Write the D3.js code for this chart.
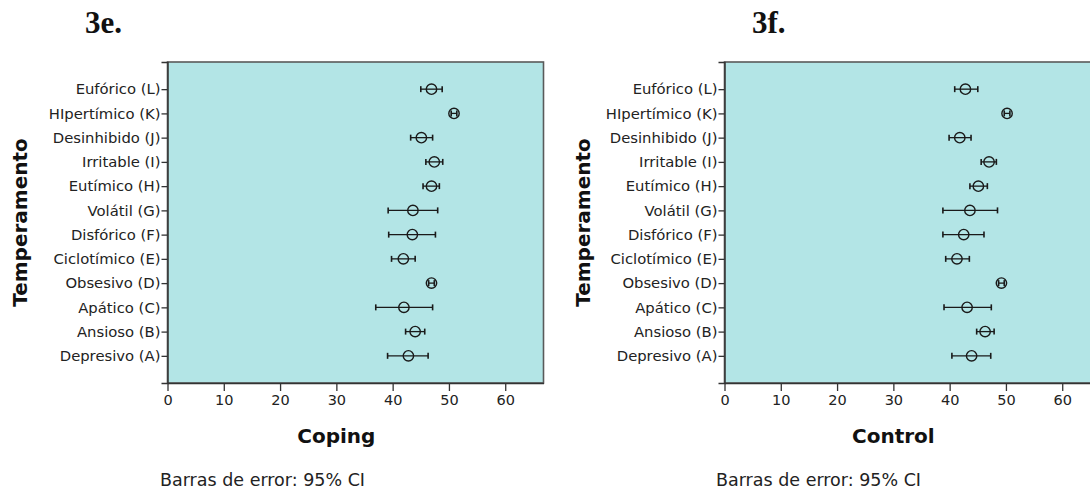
<!DOCTYPE html>
<html>
<head>
<meta charset="utf-8">
<script src="https://cdn.jsdelivr.net/npm/d3@7"></script>
<style>
  html, body { margin: 0; padding: 0; background: #fff; }
  svg { display: block; }
</style>
</head>
<body>
<svg id="chart" width="1090" height="493"></svg>
<script>
// Temperament categories, bottom (A) to top (L)
const categories = [
  "Depresivo (A)", "Ansioso (B)", "Apático (C)", "Obsesivo (D)",
  "Ciclotímico (E)", "Disfórico (F)", "Volátil (G)", "Eutímico (H)",
  "Irritable (I)", "Desinhibido (J)", "HIpertímico (K)", "Eufórico (L)"
];

// Coping: mean and 95% CI
const copingMean  = [42.8, 44.0, 42.0, 46.9, 41.9, 43.5, 43.6, 46.9, 47.4, 45.1, 50.9, 46.9];
const copingLow   = [39.1, 42.3, 37.0, 46.4, 39.8, 39.3, 39.2, 45.4, 45.9, 43.2, 50.4, 45.0];
const copingHigh  = [46.3, 45.7, 47.1, 47.4, 44.0, 47.6, 48.0, 48.3, 48.9, 47.1, 51.4, 48.8];

// Control: mean and 95% CI
const controlMean = [43.9, 46.3, 43.1, 49.2, 41.3, 42.5, 43.6, 45.1, 47.0, 41.8, 50.2, 42.8];
const controlLow  = [40.4, 44.8, 39.0, 48.7, 39.3, 38.8, 38.8, 43.6, 45.6, 39.9, 49.7, 40.9];
const controlHigh = [47.3, 47.9, 47.4, 49.7, 43.5, 46.1, 48.5, 46.7, 48.3, 43.8, 50.7, 45.0];

const xTicks = [0, 10, 20, 30, 40, 50, 60];

const svg = d3.select("#chart");
const labelFont = "'DejaVu Sans', 'Lucida Grande', sans-serif";

function panel(opts) {
  const g = svg.append("g");
  const left = opts.left, top = 62, width = 376, height = 321;

  const x = d3.scaleLinear().domain([0, 66.8]).range([left, left + width]);
  const y = d3.scalePoint().domain(categories).range([top + height, top]).padding(1.12);

  // panel heading
  g.append("text")
    .attr("x", opts.headX).attr("y", 33)
    .attr("font-family", "'Liberation Serif', 'Times New Roman', serif")
    .attr("font-weight", "bold").attr("font-size", 31)
    .attr("fill", "#111")
    .text(opts.heading);

  // plot background
  g.append("rect")
    .attr("x", left).attr("y", top).attr("width", width).attr("height", height)
    .attr("fill", "#b3e5e6").attr("stroke", "#5a5a5a").attr("stroke-width", 1.6);

  // y axis
  const yAxis = g.append("g").attr("transform", `translate(${left},0)`)
    .call(d3.axisLeft(y).tickSize(6).tickPadding(1));
  yAxis.select(".domain").attr("stroke", "#333").attr("stroke-width", 1.4);
  yAxis.selectAll(".tick line").attr("stroke", "#333").attr("stroke-width", 1.3);
  yAxis.selectAll(".tick text")
    .attr("font-family", labelFont).attr("font-size", 14.8).attr("fill", "#222");

  // x axis
  const xAxis = g.append("g").attr("transform", `translate(0,${top + height})`)
    .call(d3.axisBottom(x).tickValues(xTicks).tickSize(8).tickPadding(4).tickSizeOuter(0));
  xAxis.select(".domain").attr("stroke", "#333").attr("stroke-width", 1.4);
  xAxis.selectAll(".tick line").attr("stroke", "#333").attr("stroke-width", 1.3);
  xAxis.selectAll(".tick text")
    .attr("font-family", labelFont).attr("font-size", 14.5).attr("fill", "#222");

  // axis titles
  g.append("text")
    .attr("x", (x(0) + x(60)) / 2).attr("y", 443)
    .attr("text-anchor", "middle")
    .attr("font-family", labelFont).attr("font-weight", "bold").attr("font-size", 20)
    .attr("fill", "#111")
    .text(opts.xTitle);

  g.append("text")
    .attr("transform", `translate(${opts.yTitleX},${top + height / 2}) rotate(-90)`)
    .attr("text-anchor", "middle")
    .attr("font-family", labelFont).attr("font-weight", "bold").attr("font-size", 20)
    .attr("fill", "#111")
    .text("Temperamento");

  g.append("text")
    .attr("x", opts.noteX).attr("y", 486)
    .attr("font-family", labelFont).attr("font-size", 17.5).attr("fill", "#222")
    .text("Barras de error: 95% CI");

  // error bars and means
  const rows = categories.map((c, i) => ({ c, m: opts.mean[i], lo: opts.low[i], hi: opts.high[i] }));
  const marks = g.append("g").attr("stroke", "#1a1a1a").attr("fill", "none");
  const cap = 3;
  marks.selectAll("line.bar").data(rows).join("line").attr("class", "bar")
    .attr("x1", d => x(d.lo)).attr("x2", d => x(d.hi))
    .attr("y1", d => y(d.c)).attr("y2", d => y(d.c)).attr("stroke-width", 1.3);
  marks.selectAll("line.capL").data(rows).join("line").attr("class", "capL")
    .attr("x1", d => x(d.lo)).attr("x2", d => x(d.lo))
    .attr("y1", d => y(d.c) - cap).attr("y2", d => y(d.c) + cap).attr("stroke-width", 1.6);
  marks.selectAll("line.capH").data(rows).join("line").attr("class", "capH")
    .attr("x1", d => x(d.hi)).attr("x2", d => x(d.hi))
    .attr("y1", d => y(d.c) - cap).attr("y2", d => y(d.c) + cap).attr("stroke-width", 1.6);
  marks.selectAll("circle").data(rows).join("circle")
    .attr("cx", d => x(d.m)).attr("cy", d => y(d.c)).attr("r", 5.2)
    .attr("stroke-width", 1.4);
}

panel({
  left: 167.5, heading: "3e.", headX: 85, xTitle: "Coping", yTitleX: 27, noteX: 160,
  mean: copingMean, low: copingLow, high: copingHigh
});
panel({
  left: 724.5, heading: "3f.", headX: 752, xTitle: "Control", yTitleX: 590, noteX: 716,
  mean: controlMean, low: controlLow, high: controlHigh
});
</script>
</body>
</html>
